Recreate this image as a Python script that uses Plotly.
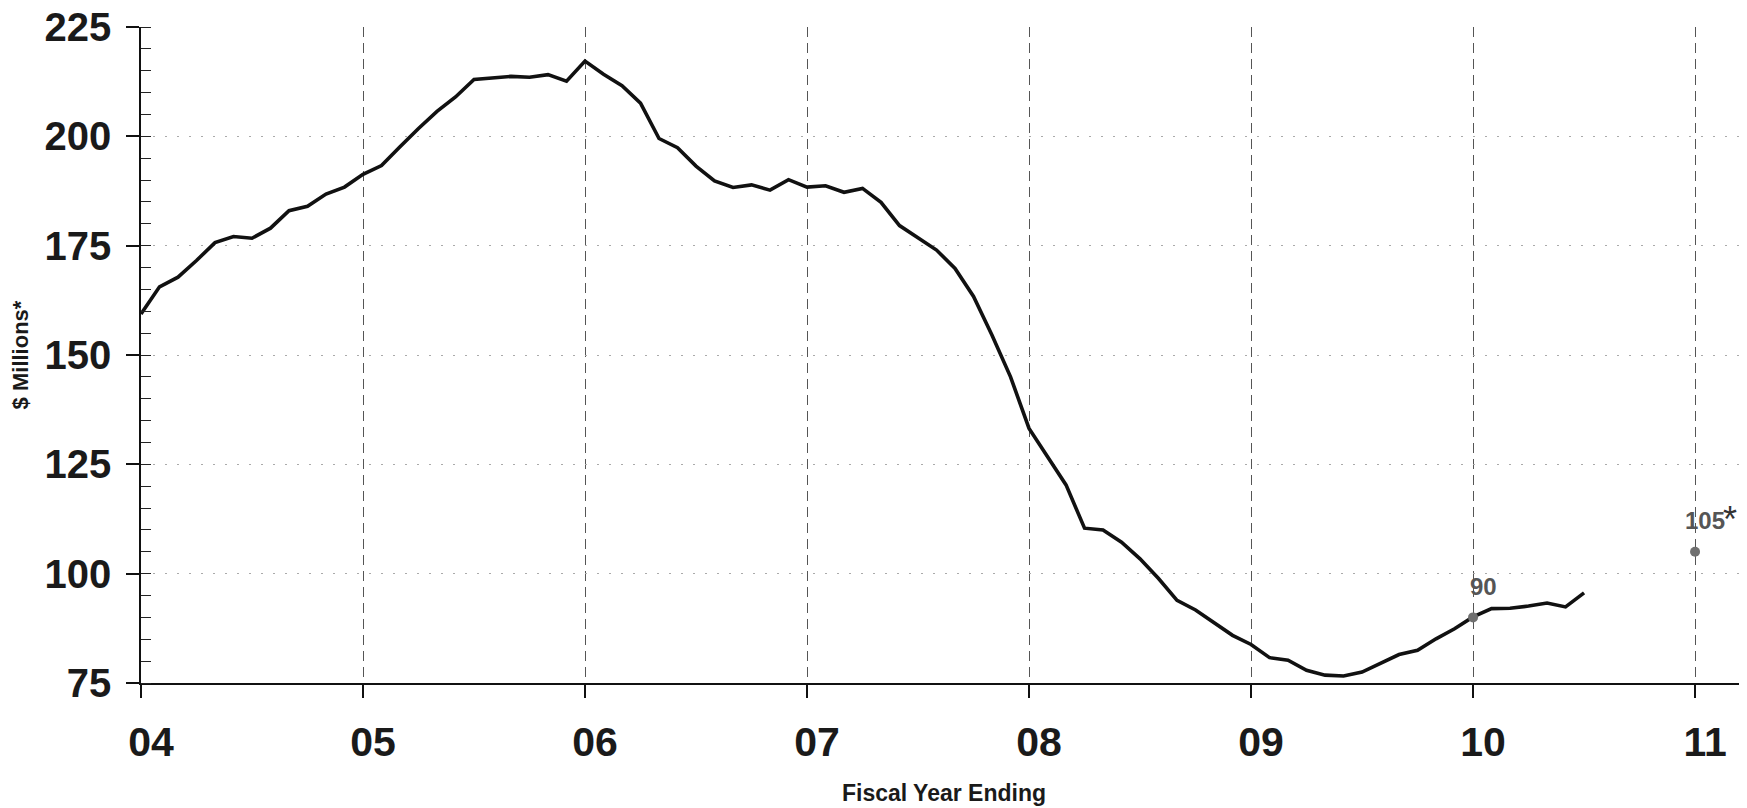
import plotly.graph_objects as go

# ---- data ----
start_year = 2004
monthly_values = [
    159.4, 165.6, 167.8, 171.6, 175.7, 177.1, 176.7, 179.0, 183.0, 184.0, 186.8, 188.4,  # FY04
    191.3, 193.3, 197.6, 201.8, 205.7, 209.0, 213.0, 213.4, 213.7, 213.5, 214.1, 212.6,  # FY05
    217.2, 214.2, 211.6, 207.6, 199.5, 197.4, 193.2, 189.8, 188.3, 188.9, 187.7, 190.1,  # FY06
    188.4, 188.7, 187.2, 188.1, 184.9, 179.6, 176.9, 174.0, 169.8, 163.4, 154.5, 145.0,  # FY07
    133.2, 126.9, 120.3, 110.4, 110.0, 107.2, 103.4, 98.9, 93.9, 91.7, 88.9, 85.9,       # FY08
    83.8, 80.8, 80.2, 77.9, 76.8, 76.6, 77.5, 79.4, 81.5, 82.5, 85.1, 87.4,              # FY09
    90.1, 92.0, 92.1, 92.6, 93.3, 92.4, 95.6,                                             # FY10
]
monthly_x = [start_year + i / 12 for i in range(len(monthly_values))]

point_x = [2010, 2011]
point_values = [90, 105]
point_labels = ["90", "105"]
point_suffix = ["", "*"]

tick_years = [2004, 2005, 2006, 2007, 2008, 2009, 2010, 2011]
tick_labels = ["04", "05", "06", "07", "08", "09", "10", "11"]
y_ticks = [75, 100, 125, 150, 175, 200, 225]

FONT = "Liberation Sans, Arial, sans-serif"

fig = go.Figure()
fig.add_trace(go.Scatter(
    x=monthly_x, y=monthly_values, mode="lines",
    line=dict(color="#111111", width=3.6),
    hoverinfo="skip", showlegend=False,
))
fig.add_trace(go.Scatter(
    x=point_x, y=point_values, mode="markers",
    marker=dict(color="#707070", size=10),
    hoverinfo="skip", showlegend=False,
))

annotations = []
for px, pv, lab, suf in zip(point_x, point_values, point_labels, point_suffix):
    annotations.append(dict(
        x=px, y=pv, xref="x", yref="y", text=lab, showarrow=False,
        xshift=10, yshift=31,
        font=dict(family=FONT, size=24, color="#555555", weight="bold"),
    ))
    if suf:
        annotations.append(dict(
            x=px, y=pv, xref="x", yref="y", text=suf, showarrow=False,
            xshift=35, yshift=32,
            font=dict(family=FONT, size=36, color="#333333"),
        ))

fig.update_layout(
    width=1739, height=800,
    margin=dict(l=133, r=0, t=19, b=125, autoexpand=False),
    paper_bgcolor="white", plot_bgcolor="white",
    showlegend=False,
    annotations=annotations,
    xaxis=dict(
        range=[2004, 2011.234],
        tickvals=tick_years, ticktext=tick_labels,
        ticks="outside", ticklen=13, tickwidth=1.5, tickcolor="#111",
        ticklabelstandoff=9, ticklabelshift=10,
        ticklabeloverflow="allow",
        tickfont=dict(family=FONT, size=41, color="#1a1a1a", weight="bold"),
        showline=True, linecolor="#111", linewidth=2,
        showgrid=True, gridcolor="#555555", gridwidth=1, griddash="10px,6px",
        zeroline=False,
        title=dict(text="Fiscal Year Ending", standoff=21,
                   font=dict(family=FONT, size=23, color="#1a1a1a", weight="bold")),
        automargin=False,
    ),
    yaxis=dict(
        range=[75, 225],
        tickvals=y_ticks,
        ticks="outside", ticklen=13, tickwidth=1.5, tickcolor="#111",
        ticklabelstandoff=7,
        ticklabeloverflow="allow",
        tickfont=dict(family=FONT, size=40, color="#1a1a1a", weight="bold"),
        showline=True, linecolor="#111", linewidth=1.5,
        showgrid=True, gridcolor="#aaaaaa", gridwidth=1, griddash="2px,10px",
        minor=dict(dtick=5, ticks="inside", ticklen=10, tickwidth=1.2,
                   tickcolor="#222", showgrid=False),
        zeroline=False,
        title=dict(text="$ Millions*", standoff=12,
                   font=dict(family=FONT, size=22, color="#1a1a1a", weight="bold")),
        automargin=False,
    ),
)

fig.write_html("out.html")
